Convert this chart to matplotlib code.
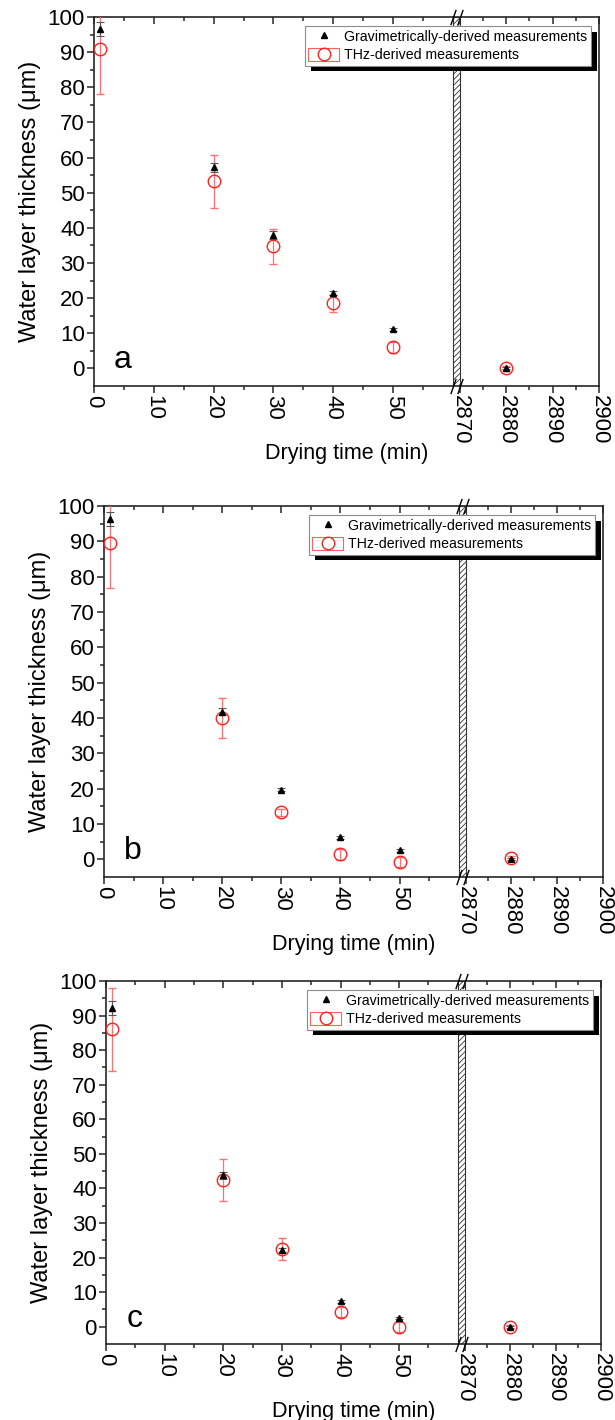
import numpy as np
import matplotlib
matplotlib.use("Agg")
import matplotlib.pyplot as plt
from matplotlib.lines import Line2D
from matplotlib.patches import Rectangle
from matplotlib.ticker import FixedLocator
from matplotlib.transforms import blended_transform_factory

plt.rcParams['font.family'] = ['Liberation Sans', 'DejaVu Sans']
plt.rcParams['hatch.linewidth'] = 0.6

times = [1, 20, 30, 40, 50, 2880]

grav_a = [96.6, 57.2, 38.0, 21.5, 11.1, 0.0]
grav_a_err = [2.0, 1.3, 1.2, 0.5, 0.4, 0.3]
thz_a = [91.0, 53.2, 34.8, 18.5, 6.0, 0.0]
thz_a_err = [13.0, 7.6, 5.0, 2.4, 1.5, 0.6]

grav_b = [96.2, 41.8, 19.7, 6.2, 2.5, 0.0]
grav_b_err = [2.0, 1.0, 0.5, 0.4, 0.3, 0.3]
thz_b = [89.5, 40.0, 13.3, 1.4, -0.8, 0.4]
thz_b_err = [12.7, 5.7, 1.0, 1.5, 1.5, 0.6]

grav_c = [92.3, 43.8, 22.3, 7.3, 2.4, 0.0]
grav_c_err = [2.0, 1.0, 0.6, 0.4, 0.3, 0.3]
thz_c = [86.0, 42.5, 22.5, 4.2, 0.0, 0.0]
thz_c_err = [12.0, 6.0, 3.2, 1.5, 1.5, 0.6]

panel_letters = ['a', 'b', 'c']
major_x = [0, 10, 20, 30, 40, 50, 2870, 2880, 2890, 2900]
minor_x = [5, 15, 25, 35, 45, 55, 2875, 2885, 2895]
major_y = list(range(0, 101, 10))
minor_y = list(range(5, 100, 10))

# broken x axis: 0-60 min, a narrow gap, then 2870-2900 min
LEFT_END = 60.0
RIGHT_START = 2870.0
GAP = 1.17
RIGHT_K = 0.775


def fwd(x):
    x = np.asarray(x, dtype=float)
    mid = LEFT_END + (x - LEFT_END) / (RIGHT_START - LEFT_END) * GAP
    right = LEFT_END + GAP + (x - RIGHT_START) * RIGHT_K
    return np.where(x <= LEFT_END, x, np.where(x < RIGHT_START, mid, right))


def inv(u):
    u = np.asarray(u, dtype=float)
    mid = LEFT_END + (u - LEFT_END) / GAP * (RIGHT_START - LEFT_END)
    right = RIGHT_START + (u - LEFT_END - GAP) / RIGHT_K
    return np.where(u <= LEFT_END, u, np.where(u < LEFT_END + GAP, mid, right))


W, H = 615, 1420
fig = plt.figure(figsize=(W / 100, H / 100), dpi=100)

# axes boxes in pixels: left, right, top, bottom
boxes = [(94, 599, 17, 386), (104, 603, 506, 877), (106, 601, 981, 1344)]
panels = [
    (grav_a, grav_a_err, thz_a, thz_a_err),
    (grav_b, grav_b_err, thz_b, thz_b_err),
    (grav_c, grav_c_err, thz_c, thz_c_err),
]

axes = []
legends = []
for (l, r, t, b), (g, ge, th, the), letter in zip(boxes, panels, panel_letters):
    ax = fig.add_axes([l / W, 1 - b / H, (r - l) / W, (b - t) / H])
    ax.set_xscale('function', functions=(fwd, inv))
    ax.set_xlim(0, 2900)
    ax.set_ylim(-5, 100)

    ax.errorbar(times, th, yerr=the, fmt='o', ms=9, mfc='none', mec='#ff2020',
                mew=1.0, ecolor='#ff7070', elinewidth=0.9, capsize=3.2,
                capthick=0.9, zorder=3)
    ax.errorbar(times, g, yerr=ge, fmt='^', ms=4.5, color='k', ecolor='0.35',
                elinewidth=0.8, capsize=3.2, capthick=0.8, zorder=4)

    # hatched break band
    ax.axvspan(LEFT_END, RIGHT_START, facecolor='white', edgecolor='0.2',
               hatch='//////', lw=0.8, zorder=2)
    tr = blended_transform_factory(ax.transData, ax.transAxes)
    for yy in (0, 1):
        ax.plot([LEFT_END, RIGHT_START], [yy, yy], ls='none',
                marker=[(-0.35, -1), (0.35, 1)], ms=11, mew=1.0, color='k',
                transform=tr, clip_on=False, zorder=6)

    ax.set_xticks(major_x)
    ax.set_xticklabels([str(v) for v in major_x], rotation=-90)
    ax.xaxis.set_minor_locator(FixedLocator(minor_x))
    ax.set_yticks(major_y)
    ax.yaxis.set_minor_locator(FixedLocator(minor_y))
    ax.tick_params(which='both', direction='out', top=False, right=False,
                   labelsize=16, width=1.1, color='0.15')
    ax.tick_params(which='major', length=5, pad=1.5)
    ax.tick_params(which='minor', length=3)
    for sp in ax.spines.values():
        sp.set_linewidth(1.2)
        sp.set_color('0.15')

    top = ax.twiny()
    top.set_xscale('function', functions=(fwd, inv))
    top.set_xlim(0, 2900)
    top.set_xticks(major_x)
    top.xaxis.set_minor_locator(FixedLocator(minor_x))
    top.tick_params(axis='x', which='both', direction='in', top=True,
                    labeltop=False, width=1.1, color='0.15')
    top.tick_params(axis='x', which='major', length=5)
    top.tick_params(axis='x', which='minor', length=3)
    for sp in top.spines.values():
        sp.set_visible(False)

    ax.set_xlabel('Drying time (min)', fontsize=15.5, labelpad=-1)
    ax.set_ylabel('Water layer thickness (\u03bcm)', fontsize=17, labelpad=5)
    ax.text(0.057, 0.048, letter, transform=ax.transAxes, fontsize=23,
            ha='center', va='baseline', zorder=6)

    h_grav = Line2D([], [], ls='none', marker='^', ms=4.5, color='k')
    h_box = Rectangle((0, 0), 1, 1, facecolor='none', edgecolor='#ff6060', lw=0.8)
    h_circ = Line2D([], [], ls='none', marker='o', ms=9, mfc='none',
                    mec='#ff2020', mew=1.0)
    leg = ax.legend([h_grav, (h_box, h_circ)],
                    ['Gravimetrically-derived measurements',
                     'THz-derived measurements'],
                    loc='upper right', bbox_to_anchor=(0.984, 0.975),
                    fontsize=10.2, frameon=True, fancybox=False, framealpha=1,
                    edgecolor='0.55', borderpad=0.25, labelspacing=0.3,
                    handlelength=2.2, handleheight=1.0, handletextpad=0.35,
                    borderaxespad=0)
    leg.get_frame().set_linewidth(0.8)
    leg.set_zorder(8)
    axes.append(ax)
    legends.append(leg)

# black drop shadow behind each legend box
fig.canvas.draw()
for ax, leg in zip(axes, legends):
    bb = leg.get_window_extent()
    x0, y0 = ax.transAxes.inverted().transform((bb.x0 + 6, bb.y0 - 5.5))
    x1, y1 = ax.transAxes.inverted().transform((bb.x1 + 6, bb.y1 - 5.5))
    ax.add_patch(Rectangle((x0, y0), x1 - x0, y1 - y0, transform=ax.transAxes,
                           facecolor='black', edgecolor='none', zorder=7,
                           clip_on=False))

fig.savefig('out.png', dpi=100)
